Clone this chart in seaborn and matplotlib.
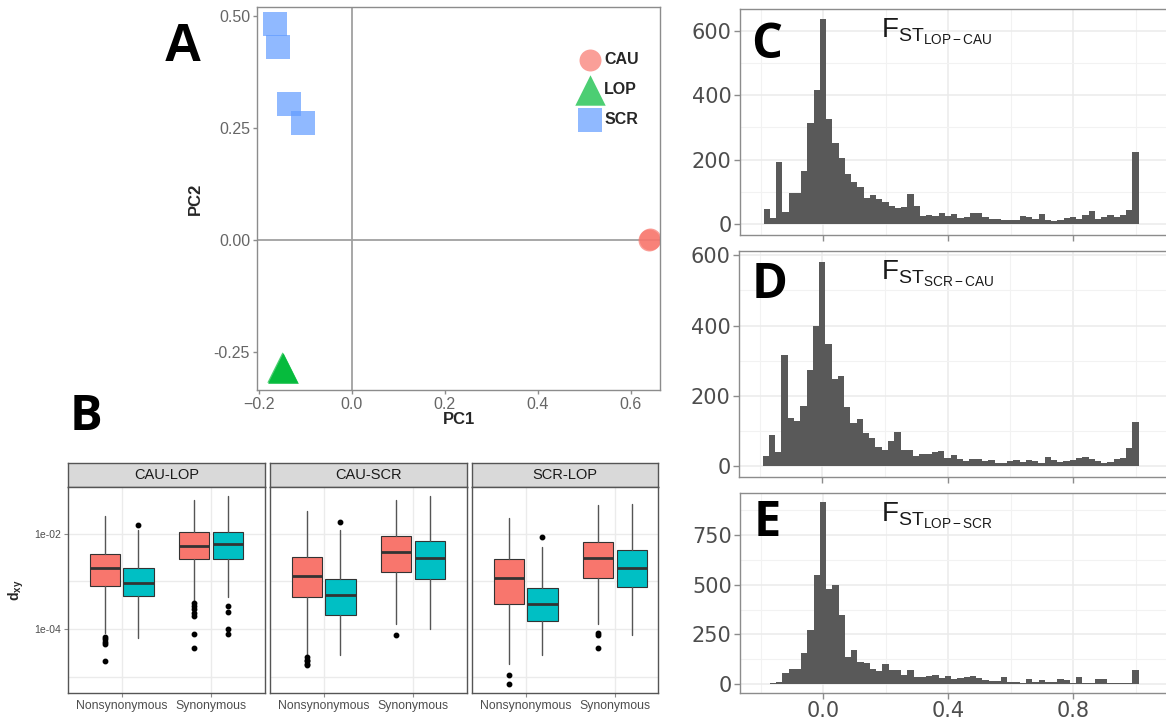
import numpy as np
import pandas as pd
import seaborn as sns
import matplotlib.pyplot as plt
from matplotlib.ticker import FixedLocator, NullFormatter

# ---- A: PCA of samples ----
pop = ["SCR", "SCR", "SCR", "SCR", "LOP", "LOP", "LOP", "CAU", "CAU"]
pc1 = [-0.165, -0.158, -0.135, -0.106, -0.149, -0.148, -0.150, 0.640, 0.641]
pc2 = [0.484, 0.431, 0.304, 0.261, -0.286, -0.287, -0.285, 0.000, 0.001]
pop_order = ["CAU", "LOP", "SCR"]
pop_colors = {"CAU": "#F8766D", "LOP": "#00BA38", "SCR": "#619CFF"}
pop_markers = {"CAU": "o", "LOP": "^", "SCR": "s"}
pop_sizes = {"CAU": 250, "LOP": 480, "SCR": 290}

# ---- B: dxy boxplots (five-number summaries) ----
pairs = ["CAU-LOP", "CAU-SCR", "SCR-LOP"]
site_types = ["Nonsynonymous", "Synonymous"]
box_colors = ["#F8766D", "#00BFC4"]
# order: pair -> site type -> red/teal
whislo = [8.4e-5, 6.4e-5, 3.9e-4, 4.7e-4, 2.9e-5, 2.9e-5, 1.3e-4, 1.0e-4, 1.9e-5, 2.9e-5, 1.3e-4, 7.4e-5]
q1 = [8.0e-4, 4.9e-4, 2.9e-3, 2.95e-3, 4.7e-4, 2.0e-4, 1.6e-3, 1.1e-3, 3.3e-4, 1.5e-4, 1.2e-3, 7.7e-4]
med = [1.9e-3, 9.3e-4, 5.4e-3, 5.9e-3, 1.3e-3, 5.1e-4, 4.1e-3, 3.0e-3, 1.15e-3, 3.3e-4, 3.1e-3, 1.9e-3]
q3 = [3.8e-3, 1.9e-3, 1.1e-2, 1.1e-2, 3.2e-3, 1.1e-3, 8.8e-3, 7.0e-3, 2.95e-3, 7.4e-4, 6.8e-3, 4.5e-3]
whishi = [2.3e-2, 1.2e-2, 5.1e-2, 6.2e-2, 2.9e-2, 1.2e-2, 5.1e-2, 6.0e-2, 2.1e-2, 5.1e-3, 3.9e-2, 4.1e-2]
fliers = [
    [6.9e-5, 6.1e-5, 5.4e-5, 4.8e-5, 2.1e-5],
    [1.5e-2],
    [3.5e-4, 3.0e-4, 2.6e-4, 2.2e-4, 1.9e-4, 7.9e-5, 4.0e-5],
    [3.1e-4, 2.3e-4, 1.0e-4, 8.0e-5],
    [2.6e-5, 2.3e-5, 2.1e-5, 1.9e-5, 1.8e-5],
    [1.7e-2],
    [7.4e-5],
    [],
    [1.1e-5, 7.1e-6],
    [8.5e-3],
    [8.1e-5, 7.4e-5, 4.0e-5],
    [],
]

# ---- C-E: FST histograms, counts per 0.02 bin from -0.19 to 1.01 ----
fst_edges = np.linspace(-0.19, 1.01, 61)
fst_lop_cau = [46, 18, 193, 36, 97, 95, 165, 314, 416, 636,
               325, 252, 204, 157, 131, 116, 82, 90, 78, 69, 56, 49, 52, 92, 56,
               24, 29, 24, 33, 25, 30, 18, 23, 34, 33, 23, 17, 16, 14, 14, 14, 25, 21,
               16, 31, 14, 8, 12, 18, 23, 16, 27, 39, 16, 21, 28, 23, 28, 45, 224]
fst_scr_cau = [29, 89, 42, 316, 139, 130, 171, 275, 399, 581,
               349, 248, 257, 169, 122, 134, 94, 81, 54, 46, 72, 98,
               46, 46, 29, 34, 34, 40, 44, 23, 32, 21, 15, 21, 21, 15, 18, 11, 11, 15,
               18, 13, 17, 16, 10, 27, 19, 13, 15, 18, 23, 27, 20, 15, 11, 13, 21, 23, 51, 127]
fst_lop_scr = [2, 3, 10, 55, 77, 77, 156, 274, 552, 918,
               481, 501, 346, 136, 170, 111, 106, 77, 64, 103, 72, 69, 47, 72, 34,
               35, 39, 47, 30, 39, 27, 30, 34, 39, 30, 22, 17, 13, 34, 10, 10, 5, 27,
               10, 20, 10, 10, 25, 20, 5, 34, 5, 5, 25, 25, 5, 5, 5, 5, 69]

sns.set_style("white")
plt.rcParams["font.family"] = ["Liberation Sans", "DejaVu Sans"]
plt.rcParams["mathtext.fontset"] = "custom"
plt.rcParams["mathtext.rm"] = "Liberation Sans"
plt.rcParams["mathtext.it"] = "Liberation Sans:italic"
plt.rcParams["mathtext.bf"] = "Liberation Sans:bold"

W, H = 1166, 724
fig = plt.figure(figsize=(W / 100, H / 100), dpi=100)
fig.patch.set_facecolor("white")


def px_axes(x0, y0, x1, y1):
    # pixel box measured from the top-left corner
    return fig.add_axes([x0 / W, 1 - y1 / H, (x1 - x0) / W, (y1 - y0) / H])


def frame(ax, color="#8C8C8C"):
    for s in ax.spines.values():
        s.set_visible(True)
        s.set_color(color)
        s.set_linewidth(1)


tick_grey = "#4D4D4D"

# ---------- panel A ----------
axA = px_axes(257, 7, 660, 390)
pca = pd.DataFrame({"PC1": pc1, "PC2": pc2, "pop": pop})
axA.axhline(0, color="#A0A0A0", lw=1.3, zorder=0)
axA.axvline(0, color="#A0A0A0", lw=1.3, zorder=0)
for name in pop_order:
    sns.scatterplot(data=pca[pca["pop"] == name], x="PC1", y="PC2",
                    marker=pop_markers[name], s=pop_sizes[name],
                    color=pop_colors[name], alpha=0.7, linewidth=0,
                    ax=axA, label=name)
axA.set_xlim(-0.204, 0.663)
axA.set_ylim(-0.336, 0.521)
axA.set_xticks([-0.2, 0.0, 0.2, 0.4, 0.6])
axA.set_yticks([-0.25, 0.0, 0.25, 0.5])
axA.set_yticklabels(["-0.25", "0.00", "0.25", "0.50"])
axA.tick_params(labelsize=11.5, labelcolor="#666666", color="#8C8C8C",
                length=3, width=1, pad=2, left=True, bottom=True)
axA.set_xlabel("PC1", fontsize=12, fontweight="bold", labelpad=0)
axA.set_ylabel("PC2", fontsize=12, fontweight="bold", labelpad=8)
frame(axA)
leg = axA.legend(loc="upper left", bbox_to_anchor=(569 / W, 1 - 44 / H),
                 bbox_transform=fig.transFigure, frameon=False,
                 prop={"weight": "bold", "size": 11.5}, handletextpad=0.1,
                 labelspacing=0.95, borderpad=0, handlelength=1.6)

# ---------- panel B ----------
facet_x = [(68, 265), (270, 467), (472, 658)]
unit_px = 89.4
for k, pair in enumerate(pairs):
    x0, x1 = facet_x[k]
    strip = px_axes(x0, 463, x1, 487)
    strip.set_facecolor("#D9D9D9")
    strip.set_xticks([])
    strip.set_yticks([])
    frame(strip, "#555555")
    strip.text(0.5, 0.5, pair, ha="center", va="center", fontsize=10.5,
               color="#1A1A1A", transform=strip.transAxes)

    ax = px_axes(x0, 487, x1, 693)
    ax.set_yscale("log")
    stats, pos, cols = [], [], []
    for s in range(2):
        for g in range(2):
            i = k * 4 + s * 2 + g
            stats.append(dict(whislo=whislo[i], q1=q1[i], med=med[i], q3=q3[i],
                              whishi=whishi[i], fliers=fliers[i]))
            pos.append(s + 1 + (g - 0.5) * 0.375)
            cols.append(box_colors[g])
    bp = ax.bxp(stats, positions=pos, widths=0.34, patch_artist=True,
                showcaps=False,
                boxprops=dict(edgecolor="#333333", linewidth=0.8),
                medianprops=dict(color="#333333", linewidth=2),
                whiskerprops=dict(color="#555555", linewidth=1),
                flierprops=dict(marker="o", markerfacecolor="black",
                                markeredgecolor="black", markersize=3.2))
    for patch, c in zip(bp["boxes"], cols):
        patch.set_facecolor(c)
    ax.set_xlim(0.4, 0.4 + (x1 - x0) / unit_px)
    ax.set_ylim(4.6e-6, 0.094)
    ax.set_xticks([1, 2])
    ax.set_xticklabels(site_types, fontsize=8.8, color=tick_grey)
    ax.yaxis.set_major_locator(FixedLocator([1e-4, 1e-2]))
    ax.yaxis.set_minor_locator(FixedLocator([1e-5, 1e-3]))
    ax.yaxis.set_minor_formatter(NullFormatter())
    ax.tick_params(axis="x", length=3, color="#8C8C8C", pad=2, bottom=True)
    ax.tick_params(axis="y", which="minor", length=0)
    ax.grid(True, which="both", color="#EBEBEB", lw=1)
    ax.set_axisbelow(True)
    if k == 0:
        ax.set_yticklabels(["1e-04", "1e-02"], fontsize=7.5, color=tick_grey)
        ax.tick_params(axis="y", which="major", length=3, color="#8C8C8C",
                       pad=2, left=True)
        ax.set_ylabel(r"$\mathbf{d_{xy}}$", fontsize=10, labelpad=6)
    else:
        ax.set_yticklabels([])
        ax.tick_params(axis="y", which="major", length=0)
    frame(ax, "#555555")

# ---------- panels C-E ----------
hist_specs = [
    (fst_lop_cau, (740, 9, 1170, 235), (-34, 668), [0, 200, 400, 600], [100, 300, 500], "LOP-CAU", False),
    (fst_scr_cau, (739, 251, 1170, 477), (-30, 612), [0, 200, 400, 600], [100, 300, 500], "SCR-CAU", False),
    (fst_lop_scr, (740, 493, 1170, 693), (-45, 963), [0, 250, 500, 750], [125, 375, 625, 875], "LOP-SCR", True),
]
fst_mid = fst_edges[:-1] + 0.01
for counts, box, ylim, yt, ymt, lab, show_x in hist_specs:
    ax = px_axes(*box)
    hist_df = pd.DataFrame({"fst": fst_mid, "n": counts})
    sns.histplot(data=hist_df, x="fst", weights="n", bins=list(fst_edges),
                 color="#595959", alpha=1, linewidth=0, ax=ax)
    ax.set_xlim(-0.2656, 1.110)
    ax.set_ylim(*ylim)
    ax.set_xticks([0.0, 0.4, 0.8])
    ax.xaxis.set_minor_locator(FixedLocator([-0.2, 0.2, 0.6, 1.0]))
    ax.set_yticks(yt)
    ax.yaxis.set_minor_locator(FixedLocator(ymt))
    ax.grid(True, which="major", color="#EBEBEB", lw=1.1)
    ax.grid(True, which="minor", color="#F2F2F2", lw=0.8)
    ax.set_axisbelow(True)
    ax.set_xlabel("")
    ax.set_ylabel("")
    ax.tick_params(which="major", length=4, color="#8C8C8C", width=1,
                   labelsize=15, labelcolor=tick_grey, pad=2, left=True, bottom=True)
    ax.tick_params(which="minor", length=0)
    for t in ax.get_yticklabels() + ax.get_xticklabels():
        t.set_family(["DejaVu Sans"])
    if not show_x:
        ax.set_xticklabels([])
    else:
        ax.set_xticklabels(["0.0", "0.4", "0.8"])
    frame(ax)
    ax.spines["right"].set_visible(False)
    ax.text((881 - box[0]) / (box[2] - box[0]), 1 - 7 / (box[3] - box[1]),
            r"$\mathrm{F}_{\mathrm{ST}_{\mathrm{" + lab + r"}}}$",
            transform=ax.transAxes, ha="left", va="top", fontsize=20,
            color="#1A1A1A")

# panel letters
fig.text(183 / W, 1 - 47 / H, "A", ha="center", va="center", fontsize=38,
         fontweight="bold", color="black", family=["Liberation Sans"])
letters = [("B", 86, 418), ("C", 767, 46), ("D", 770, 285), ("E", 767, 523)]
for let, x, y in letters:
    fig.text(x / W, 1 - y / H, let, ha="center", va="center", fontsize=35,
             fontweight="bold", color="black", family=["Open Sans", "DejaVu Sans"])

fig.savefig("out.png", dpi=100, facecolor="white")
